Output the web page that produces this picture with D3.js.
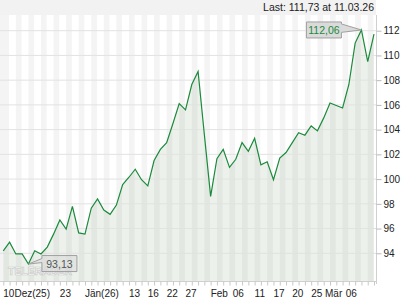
<!DOCTYPE html>
<html>
<head>
<meta charset="utf-8">
<script src="https://cdn.jsdelivr.net/npm/d3@7"></script>
<style>
  body { margin: 0; background: #fff; }
  svg text { font-family: "Liberation Sans", Arial, sans-serif; }
</style>
</head>
<body>
<div class="chart"></div>
<script>
// data
const prices = [
  94.2, 94.9, 93.95, 93.95, 93.13, 94.2, 93.95, 94.5, 95.55, 96.7,
  95.95, 97.8, 95.65, 95.55, 97.65, 98.4, 97.5, 97.15, 97.9, 99.55,
  100.15, 100.8, 99.95, 99.45, 101.5, 102.4, 102.95, 104.5, 106.1, 105.6,
  107.65, 108.7, 103.6, 98.6, 101.65, 102.4, 100.95, 101.6, 102.95, 102.25,
  103.3, 101.15, 101.4, 99.95, 101.7, 102.15, 102.95, 103.75, 103.55, 104.3,
  103.9, 104.95, 106.15, 105.95, 105.75, 107.65, 111.0, 112.06, 109.5, 111.73
];
const yTicks = [94, 96, 98, 100, 102, 104, 106, 108, 110, 112];
const xTickIdx = [0, 9, 13, 20, 23, 26, 29, 33, 36.5, 40, 43, 46, 49, 51.2, 54.5];
const xTickText = ['10Dez(25)', '23', 'Jän(26)', '13', '16', '22', '27', 'Feb', '06', '11', '17', '20', '25', 'Mär', '06'];
const lastText = 'Last: 111,73 at 11.03.26';
const fmt = v => d3.format('.2f')(v).replace('.', ',');

// chart
const width = 420, height = 300;
const plotRight = 376, plotTop = 15, plotBottom = 281;

const svg = d3.select('.chart').append('svg')
  .attr('width', width).attr('height', height);

const x = d3.scaleLinear().domain([0, prices.length - 1]).range([3.3, 374]);
const y = d3.scaleLinear().domain([94, 112]).range([253.3, 30.7]);

// header band
svg.append('rect').attr('x', 0).attr('y', 0).attr('width', plotRight).attr('height', plotTop)
  .attr('fill', '#f2f2f2');
svg.append('text').attr('x', 374).attr('y', 11).attr('text-anchor', 'end')
  .style('font-size', '10.5px').style('fill', '#222').text(lastText);

// day stripes
svg.append('g').selectAll('rect')
  .data(d3.range(0, prices.length, 2))
  .enter().append('rect')
  .attr('x', i => i === 0 ? 0 : x(i))
  .attr('width', i => x(i + 0.9) - (i === 0 ? 0 : x(i)))
  .attr('y', plotTop).attr('height', plotBottom - plotTop)
  .attr('fill', '#f4f4f4');

// area + grid
svg.append('path').datum(prices)
  .attr('d', d3.area().x((d, i) => x(i)).y0(plotBottom).y1(d => y(d)))
  .attr('fill', 'rgb(120,160,110)').attr('fill-opacity', 0.14);

svg.append('g').selectAll('line').data(yTicks).enter().append('line')
  .attr('x1', 0).attr('x2', plotRight)
  .attr('y1', d => y(d)).attr('y2', d => y(d))
  .attr('stroke', '#e2e2e2').attr('stroke-width', 1);

// line
svg.append('path').datum(prices)
  .attr('d', d3.line().x((d, i) => x(i)).y(d => y(d)))
  .attr('fill', 'none').attr('stroke', '#1b8a3c').attr('stroke-width', 1.2)
  .attr('stroke-linejoin', 'miter');

// axes
svg.append('line').attr('x1', plotRight + 0.5).attr('x2', plotRight + 0.5)
  .attr('y1', plotTop).attr('y2', plotBottom + 3).attr('stroke', '#d0d0d0');
svg.append('line').attr('x1', 0).attr('x2', plotRight)
  .attr('y1', plotBottom + 0.5).attr('y2', plotBottom + 0.5).attr('stroke', '#d0d0d0');

const yAxis = svg.append('g').attr('transform', `translate(${plotRight + 0.5},0)`)
  .call(d3.axisRight(y).tickValues(yTicks).tickSize(5).tickPadding(2));
yAxis.select('.domain').remove();
yAxis.selectAll('line').attr('stroke', '#bbb');
yAxis.selectAll('text').style('font-size', '10px').style('fill', '#222')
  .style('font-family', '"Liberation Sans", Arial, sans-serif');

const xMinor = svg.append('g').attr('transform', `translate(0,${plotBottom + 0.5})`)
  .call(d3.axisBottom(x).tickValues(d3.range(prices.length)).tickSize(4).tickFormat(''));
xMinor.select('.domain').remove();
xMinor.selectAll('line').attr('stroke', '#c8c8c8');

svg.append('g').selectAll('text').data(xTickIdx).enter().append('text')
  .attr('x', d => x(d)).attr('y', 296.5)
  .style('font-size', '10px').style('fill', '#222')
  .text((d, i) => xTickText[i]);

// watermark
svg.append('text').attr('x', 8).attr('y', 275).attr('textLength', 64)
  .attr('lengthAdjust', 'spacingAndGlyphs')
  .style('font-size', '11px').style('font-weight', 'bold')
  .style('fill', '#fafafa').style('stroke', '#c8c8c8').style('stroke-width', 0.7)
  .text('TELERADER');

// callouts
const iMax = d3.maxIndex(prices), iMin = d3.minIndex(prices);
const callout = (i, side) => {
  const px = x(i), py = y(prices[i]);
  const w = 35, h = 16;
  const g = svg.append('g');
  if (side === 'left') {
    const bx = px - 20 - w, by = py - h / 2;
    g.append('path')
      .attr('d', `M${bx},${by}H${bx + w}V${by + 2}L${px},${py}L${bx + w},${by + h * 0.65}V${by + h}H${bx}Z`)
      .attr('fill', '#dadada').attr('stroke', '#a0a0a0').attr('stroke-width', 1);
    g.append('text').attr('x', bx + w / 2).attr('y', py + 4).attr('text-anchor', 'middle')
      .style('font-size', '10.5px').style('fill', '#1b8a3c').text(fmt(prices[i]));
  } else {
    const bx = px + 13.5, by = py - 8.5;
    g.append('path')
      .attr('d', `M${bx},${by}H${bx + w}V${by + h}H${bx}V${by + 7}L${px},${py}L${bx},${by + 3}Z`)
      .attr('fill', '#dadada').attr('fill-opacity', 0.6).attr('stroke', '#a0a0a0').attr('stroke-width', 1);
    g.append('text').attr('x', bx + w / 2).attr('y', by + 12).attr('text-anchor', 'middle')
      .style('font-size', '10.5px').style('fill', '#555').text(fmt(prices[i]));
  }
};
callout(iMax, 'left');
callout(iMin, 'right');
</script>
</body>
</html>
